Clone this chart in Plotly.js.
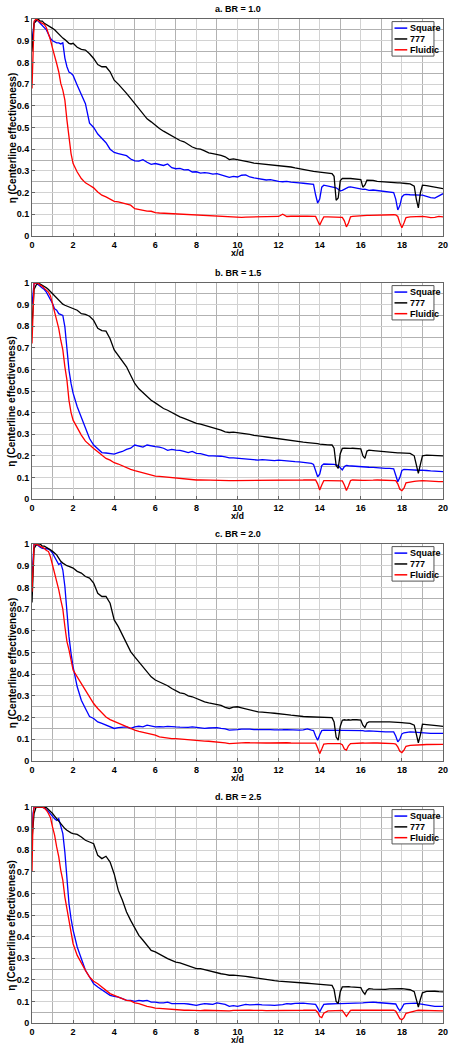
<!DOCTYPE html>
<html><head><meta charset="utf-8">
<script src="https://cdn.plot.ly/plotly-3.0.1.min.js"></script>
<style>html,body{margin:0;padding:0;background:#fff}#chart{width:460px;height:1050px}</style>
</head><body><div id="chart"></div>
<script>
// x/d sample positions
const x = [0,0.05,0.1,0.2,0.3,0.4,0.5,0.6,0.7,0.8,
 0.9,1.0,1.1,1.2,1.3,1.4,1.5,1.6,1.7,1.8,
 1.9,2.0,
 2.2,2.4,2.6,2.8,3.0,3.2,3.4,3.6,3.8,4.0,
 4.2,4.4,4.6,4.8,5.0,5.2,5.4,5.6,5.8,6.0,
 6.2,6.4,6.6,6.8,7.0,7.2,7.4,7.6,7.8,8.0,
 8.2,8.4,8.6,8.8,9.0,9.2,9.4,9.6,9.8,10.0,
 10.2,10.4,10.6,10.8,11.0,11.2,11.4,11.6,11.8,12.0,
 12.2,12.4,12.6,12.8,13.0,
 13.2,13.4,13.6,13.7,13.8,13.9,14.0,14.1,14.2,14.4,
 14.6,14.7,14.8,14.9,15.0,15.1,15.2,15.3,15.4,15.5,
 15.6,15.8,16.0,16.1,16.2,16.3,16.4,16.6,16.8,17.0,
 17.2,17.4,17.6,17.7,17.8,17.9,18.0,18.1,18.2,18.4,
 18.6,18.7,18.8,18.9,19.0,19.2,19.4,19.6,19.8,20.0];

// a. BR = 1.0
const squareA = [0.90,0.95,0.98,1.00,0.99,0.98,0.97,0.96,0.95,0.93,
 0.91,0.90,0.895,0.89,0.89,0.885,0.89,0.82,0.78,0.755,
 0.75,0.74,
 0.695,0.65,0.61,0.52,0.50,0.47,0.45,0.43,0.40,0.385,
 0.38,0.375,0.37,0.355,0.346,0.345,0.352,0.34,0.33,0.334,
 0.328,0.325,0.332,0.315,0.31,0.312,0.305,0.306,0.295,0.296,
 0.29,0.292,0.29,0.285,0.287,0.28,0.276,0.27,0.275,0.272,
 0.28,0.282,0.272,0.268,0.265,0.262,0.258,0.26,0.255,0.252,
 0.25,0.252,0.248,0.245,0.245,
 0.243,0.242,0.24,0.238,0.19,0.152,0.17,0.225,0.234,0.23,
 0.228,0.226,0.222,0.215,0.208,0.21,0.215,0.222,0.225,0.226,
 0.224,0.222,0.218,0.215,0.216,0.212,0.21,0.212,0.21,0.208,
 0.206,0.204,0.2,0.17,0.12,0.14,0.18,0.19,0.192,0.19,
 0.188,0.187,0.186,0.188,0.188,0.182,0.177,0.175,0.185,0.195];
const j777A = [0.85,0.93,0.98,0.99,1.00,0.99,0.99,0.98,0.975,0.968,
 0.962,0.957,0.95,0.94,0.93,0.92,0.912,0.905,0.895,0.888,
 0.885,0.888,
 0.87,0.86,0.857,0.84,0.818,0.79,0.78,0.78,0.757,0.718,
 0.70,0.68,0.657,0.634,0.61,0.588,0.565,0.54,0.526,0.51,
 0.495,0.483,0.472,0.46,0.45,0.44,0.434,0.423,0.41,0.403,
 0.40,0.392,0.383,0.38,0.377,0.372,0.365,0.352,0.355,0.352,
 0.348,0.345,0.34,0.336,0.334,0.332,0.33,0.33,0.328,0.326,
 0.322,0.32,0.318,0.314,0.31,
 0.305,0.302,0.30,0.298,0.297,0.296,0.294,0.293,0.292,0.29,
 0.288,0.275,0.165,0.175,0.255,0.265,0.266,0.265,0.266,0.265,
 0.264,0.262,0.26,0.225,0.235,0.257,0.257,0.256,0.252,0.25,
 0.248,0.247,0.246,0.246,0.245,0.245,0.245,0.243,0.242,0.24,
 0.23,0.17,0.13,0.2,0.234,0.232,0.228,0.226,0.222,0.218];
const fluidicA = [0.68,0.90,0.99,1.00,0.99,0.985,0.98,0.975,0.96,0.934,
 0.903,0.865,0.834,0.795,0.757,0.703,0.672,0.626,0.534,0.442,
 0.38,0.334,
 0.295,0.265,0.245,0.234,0.222,0.203,0.188,0.18,0.17,0.16,
 0.157,0.153,0.147,0.142,0.126,0.122,0.118,0.115,0.114,0.108,
 0.106,0.105,0.104,0.102,0.10,0.099,0.098,0.097,0.096,0.095,
 0.094,0.093,0.092,0.091,0.09,0.089,0.089,0.088,0.086,0.085,
 0.086,0.087,0.087,0.088,0.088,0.089,0.089,0.09,0.09,0.09,
 0.10,0.09,0.091,0.09,0.09,
 0.091,0.092,0.092,0.091,0.09,0.07,0.05,0.07,0.088,0.088,
 0.088,0.089,0.088,0.088,0.088,0.086,0.07,0.042,0.06,0.088,
 0.09,0.092,0.095,0.094,0.095,0.095,0.095,0.096,0.095,0.095,
 0.096,0.097,0.098,0.097,0.09,0.06,0.038,0.06,0.085,0.088,
 0.089,0.09,0.09,0.09,0.09,0.088,0.085,0.086,0.09,0.088];

// b. BR = 1.5
const squareB = [0.90,0.95,1.00,1.00,0.99,0.985,0.977,0.97,0.958,0.94,
 0.927,0.905,0.88,0.874,0.858,0.854,0.85,0.797,0.69,0.596,
 0.535,0.49,
 0.427,0.38,0.327,0.28,0.25,0.234,0.215,0.213,0.21,0.208,
 0.215,0.22,0.23,0.235,0.25,0.245,0.24,0.25,0.245,0.242,
 0.24,0.235,0.225,0.23,0.226,0.225,0.22,0.215,0.22,0.211,
 0.21,0.205,0.2,0.2,0.2,0.198,0.195,0.19,0.19,0.188,
 0.187,0.185,0.185,0.182,0.18,0.182,0.18,0.18,0.178,0.18,
 0.178,0.175,0.172,0.173,0.172,
 0.17,0.166,0.165,0.16,0.13,0.103,0.115,0.155,0.162,0.162,
 0.161,0.16,0.158,0.155,0.145,0.135,0.15,0.155,0.154,0.153,
 0.153,0.152,0.15,0.15,0.149,0.148,0.147,0.146,0.144,0.142,
 0.142,0.142,0.14,0.11,0.08,0.1,0.132,0.137,0.136,0.134,
 0.134,0.134,0.133,0.134,0.134,0.132,0.13,0.13,0.128,0.127];
const j777B = [0.80,0.90,0.97,0.99,1.00,0.995,0.99,0.985,0.978,0.97,
 0.96,0.95,0.94,0.927,0.918,0.908,0.902,0.897,0.893,0.889,
 0.885,0.881,
 0.874,0.858,0.855,0.846,0.827,0.79,0.78,0.777,0.742,0.69,
 0.665,0.642,0.612,0.573,0.535,0.51,0.492,0.473,0.457,0.445,
 0.43,0.419,0.411,0.40,0.388,0.38,0.373,0.365,0.357,0.35,
 0.347,0.342,0.334,0.33,0.327,0.319,0.311,0.308,0.31,0.308,
 0.305,0.302,0.299,0.295,0.291,0.29,0.287,0.284,0.282,0.28,
 0.277,0.274,0.272,0.268,0.265,
 0.263,0.261,0.26,0.259,0.258,0.256,0.254,0.254,0.253,0.251,
 0.25,0.235,0.155,0.142,0.21,0.234,0.235,0.234,0.236,0.234,
 0.235,0.234,0.232,0.2,0.188,0.222,0.226,0.224,0.222,0.219,
 0.218,0.216,0.214,0.215,0.214,0.214,0.214,0.213,0.212,0.211,
 0.2,0.16,0.119,0.16,0.2,0.203,0.203,0.202,0.201,0.2];
const fluidicB = [0.72,0.90,1.00,1.00,1.00,0.99,0.985,0.975,0.965,0.958,
 0.94,0.905,0.87,0.827,0.79,0.735,0.69,0.612,0.55,0.457,
 0.40,0.365,
 0.327,0.296,0.268,0.25,0.234,0.219,0.203,0.188,0.18,0.168,
 0.162,0.153,0.146,0.137,0.131,0.126,0.122,0.116,0.111,0.106,
 0.105,0.103,0.102,0.10,0.10,0.098,0.096,0.094,0.091,0.088,
 0.089,0.088,0.088,0.087,0.088,0.087,0.086,0.085,0.085,0.085,
 0.085,0.086,0.085,0.085,0.085,0.086,0.087,0.087,0.088,0.088,
 0.088,0.087,0.088,0.088,0.088,
 0.088,0.089,0.088,0.088,0.088,0.07,0.042,0.065,0.085,0.085,
 0.085,0.085,0.086,0.085,0.085,0.084,0.065,0.039,0.06,0.085,
 0.088,0.086,0.085,0.086,0.086,0.087,0.087,0.087,0.088,0.088,
 0.088,0.088,0.088,0.085,0.07,0.045,0.039,0.05,0.075,0.08,
 0.082,0.083,0.084,0.085,0.085,0.084,0.082,0.08,0.08,0.08];

// c. BR = 2.0
const squareC = [0.85,0.95,1.00,1.00,0.99,0.985,0.98,0.978,0.977,0.977,
 0.97,0.958,0.94,0.92,0.905,0.912,0.88,0.804,0.68,0.573,
 0.496,0.434,
 0.342,0.28,0.242,0.205,0.196,0.18,0.173,0.165,0.157,0.15,
 0.154,0.154,0.157,0.15,0.157,0.16,0.157,0.165,0.16,0.157,
 0.158,0.157,0.16,0.16,0.157,0.156,0.155,0.155,0.157,0.154,
 0.153,0.15,0.152,0.154,0.154,0.15,0.148,0.142,0.145,0.145,
 0.147,0.148,0.147,0.145,0.145,0.148,0.148,0.145,0.143,0.142,
 0.144,0.145,0.143,0.142,0.142,
 0.143,0.148,0.142,0.14,0.115,0.096,0.12,0.14,0.142,0.142,
 0.142,0.142,0.14,0.14,0.139,0.14,0.142,0.142,0.142,0.142,
 0.14,0.14,0.139,0.14,0.138,0.139,0.139,0.138,0.136,0.134,
 0.134,0.134,0.134,0.115,0.088,0.1,0.125,0.13,0.132,0.134,
 0.133,0.132,0.13,0.13,0.13,0.128,0.127,0.127,0.126,0.127];
const j777C = [0.73,0.90,0.98,0.995,1.00,1.00,0.99,0.99,0.985,0.98,
 0.973,0.966,0.958,0.95,0.935,0.92,0.912,0.905,0.9,0.897,
 0.893,0.889,
 0.874,0.866,0.85,0.843,0.82,0.773,0.758,0.758,0.727,0.65,
 0.619,0.58,0.542,0.504,0.48,0.458,0.435,0.411,0.388,0.373,
 0.365,0.354,0.347,0.334,0.324,0.314,0.311,0.30,0.296,0.288,
 0.28,0.273,0.268,0.265,0.262,0.256,0.247,0.242,0.248,0.25,
 0.245,0.24,0.234,0.23,0.226,0.225,0.222,0.222,0.22,0.219,
 0.216,0.214,0.211,0.208,0.206,
 0.205,0.204,0.203,0.203,0.202,0.201,0.2,0.2,0.2,0.2,
 0.2,0.18,0.11,0.096,0.16,0.188,0.19,0.188,0.19,0.188,
 0.19,0.19,0.188,0.165,0.154,0.175,0.18,0.18,0.181,0.18,
 0.18,0.18,0.18,0.179,0.178,0.178,0.177,0.176,0.175,0.173,
 0.165,0.13,0.084,0.12,0.17,0.168,0.165,0.164,0.162,0.16];
const fluidicC = [0.78,0.95,1.00,1.00,0.995,0.99,0.985,0.98,0.97,0.966,
 0.94,0.905,0.87,0.827,0.79,0.743,0.70,0.62,0.55,0.512,
 0.47,0.419,
 0.388,0.357,0.327,0.296,0.265,0.242,0.222,0.203,0.191,0.183,
 0.173,0.165,0.157,0.15,0.142,0.137,0.133,0.126,0.122,0.119,
 0.111,0.108,0.108,0.103,0.103,0.101,0.099,0.098,0.096,0.096,
 0.094,0.092,0.091,0.09,0.088,0.086,0.084,0.08,0.082,0.083,
 0.084,0.085,0.084,0.083,0.083,0.084,0.083,0.083,0.084,0.083,
 0.083,0.084,0.083,0.083,0.083,
 0.083,0.083,0.084,0.083,0.082,0.06,0.034,0.055,0.078,0.08,
 0.08,0.081,0.08,0.08,0.08,0.075,0.055,0.05,0.07,0.08,
 0.081,0.082,0.083,0.083,0.082,0.083,0.083,0.083,0.083,0.083,
 0.083,0.082,0.08,0.078,0.065,0.045,0.039,0.05,0.068,0.072,
 0.074,0.075,0.075,0.075,0.075,0.076,0.077,0.077,0.077,0.077];

// d. BR = 2.5
const squareD = [0.85,0.97,1.00,1.00,1.00,1.00,1.00,0.995,0.99,0.98,
 0.97,0.957,0.945,0.938,0.946,0.915,0.877,0.79,0.66,0.552,
 0.483,0.43,
 0.352,0.298,0.244,0.213,0.182,0.167,0.154,0.14,0.128,0.123,
 0.12,0.113,0.105,0.105,0.10,0.105,0.102,0.105,0.097,0.097,
 0.093,0.093,0.097,0.09,0.09,0.092,0.09,0.088,0.086,0.082,
 0.086,0.09,0.088,0.086,0.093,0.088,0.086,0.077,0.08,0.077,
 0.08,0.086,0.084,0.086,0.086,0.084,0.082,0.083,0.082,0.082,
 0.085,0.09,0.088,0.091,0.093,
 0.092,0.09,0.088,0.087,0.086,0.07,0.051,0.07,0.086,0.088,
 0.09,0.09,0.089,0.09,0.09,0.09,0.091,0.09,0.09,0.09,
 0.091,0.092,0.093,0.093,0.094,0.095,0.096,0.097,0.095,0.093,
 0.092,0.091,0.09,0.088,0.07,0.056,0.07,0.088,0.09,0.092,
 0.093,0.092,0.09,0.088,0.086,0.085,0.08,0.077,0.077,0.077];
const j777D = [0.85,0.92,0.97,1.00,1.00,1.00,1.00,1.00,0.997,0.988,
 0.98,0.97,0.958,0.946,0.935,0.923,0.912,0.90,0.892,0.884,
 0.88,0.877,
 0.873,0.861,0.846,0.838,0.83,0.776,0.761,0.772,0.745,0.69,
 0.614,0.568,0.514,0.475,0.437,0.406,0.383,0.36,0.336,0.329,
 0.318,0.306,0.298,0.29,0.282,0.278,0.272,0.267,0.259,0.252,
 0.252,0.247,0.241,0.236,0.231,0.228,0.225,0.221,0.222,0.221,
 0.218,0.216,0.213,0.21,0.205,0.203,0.2,0.198,0.196,0.194,
 0.193,0.191,0.19,0.188,0.187,
 0.185,0.184,0.182,0.181,0.18,0.18,0.179,0.178,0.177,0.176,
 0.174,0.155,0.1,0.09,0.145,0.167,0.168,0.167,0.168,0.167,
 0.167,0.166,0.164,0.145,0.133,0.152,0.159,0.157,0.156,0.154,
 0.156,0.158,0.159,0.16,0.159,0.159,0.159,0.158,0.156,0.154,
 0.145,0.11,0.074,0.11,0.14,0.146,0.148,0.147,0.145,0.144];
const fluidicD = [0.70,0.95,1.00,1.00,1.00,1.00,1.00,0.995,0.985,0.97,
 0.95,0.907,0.87,0.815,0.77,0.707,0.66,0.583,0.53,0.46,
 0.41,0.367,
 0.313,0.275,0.244,0.213,0.193,0.182,0.167,0.151,0.136,0.128,
 0.12,0.113,0.105,0.102,0.093,0.09,0.082,0.077,0.074,0.069,
 0.068,0.066,0.065,0.062,0.062,0.061,0.059,0.06,0.059,0.056,
 0.057,0.059,0.058,0.057,0.056,0.057,0.056,0.056,0.058,0.059,
 0.058,0.059,0.059,0.058,0.059,0.058,0.057,0.057,0.056,0.056,
 0.057,0.058,0.058,0.059,0.059,
 0.059,0.06,0.059,0.059,0.059,0.05,0.03,0.025,0.045,0.056,
 0.057,0.058,0.059,0.059,0.059,0.058,0.045,0.031,0.045,0.058,
 0.059,0.059,0.059,0.06,0.06,0.061,0.061,0.062,0.062,0.062,
 0.061,0.06,0.059,0.055,0.04,0.02,0.015,0.025,0.045,0.051,
 0.055,0.057,0.059,0.059,0.059,0.058,0.056,0.056,0.056,0.056];

const seriesNames = ['Square', '777', 'Fluidic'];
const seriesColors = ['#0000ff', '#000000', '#ff0000'];
const panelTitles = ['a. BR = 1.0', 'b. BR = 1.5', 'c. BR = 2.0', 'd. BR = 2.5'];
const panelData = [[squareA, j777A, fluidicA], [squareB, j777B, fluidicB],
                   [squareC, j777C, fluidicC], [squareD, j777D, fluidicD]];
const xTitle = 'x/d';
const yTitle = 'η (Centerline effectiveness)';

const W = 460, H = 1050, ML = 32, MR = 17;
const plotTop = [19, 283, 544, 807];
const plotBottom = [236, 499, 761, 1023];
const FONT = 'Arial, "Liberation Sans", sans-serif';

const traces = [];
const layout = {
  width: W, height: H,
  margin: {l: ML, r: MR, t: 0, b: 0, pad: 0},
  paper_bgcolor: '#ffffff', plot_bgcolor: '#ffffff',
  showlegend: false,
  font: {family: FONT, size: 9, color: '#000'},
  annotations: [], shapes: []
};

panelData.forEach((series, i) => {
  const n = i === 0 ? '' : String(i + 1);
  const xa = 'x' + n, ya = 'y' + n;
  series.forEach((vals, k) => {
    traces.push({
      type: 'scatter', mode: 'lines', x: x, y: vals,
      xaxis: xa, yaxis: ya, name: seriesNames[k],
      line: {color: seriesColors[k], width: 1.3},
      hoverinfo: 'skip'
    });
  });
  const common = {
    showgrid: true, gridcolor: '#d2d2d2', gridwidth: 1,
    zeroline: false, showline: true, mirror: true,
    linecolor: '#666', linewidth: 1,
    ticks: 'inside', ticklen: 3, tickcolor: '#666',
    tickfont: {family: FONT, size: 9, weight: 'bold', color: '#000'},
    fixedrange: true
  };
  layout['xaxis' + n] = Object.assign({}, common, {
    domain: [0, 1], range: [0, 20], tick0: 0, dtick: 2, anchor: ya,
    minor: {dtick: 1, showgrid: true, gridcolor: '#b2b2b2', gridwidth: 1, ticks: ''}
  });
  layout['yaxis' + n] = Object.assign({}, common, {
    domain: [1 - plotBottom[i] / H, 1 - plotTop[i] / H], range: [0, 1],
    tick0: 0, dtick: 0.1, anchor: xa, ticklabelstandoff: 0,
    minor: {dtick: 0.05, showgrid: true, gridcolor: '#b2b2b2', gridwidth: 1, ticks: ''}
  });
  const xd = xa + ' domain', yd = ya + ' domain';
  // panel title
  layout.annotations.push({text: panelTitles[i], xref: xd, yref: yd, x: 0.5, y: 1,
    xanchor: 'center', yanchor: 'middle', yshift: 10, showarrow: false,
    font: {family: FONT, size: 9, weight: 'bold', color: '#000'}});
  // x title
  layout.annotations.push({text: xTitle, xref: xd, yref: yd, x: 0.5, y: 0,
    xanchor: 'center', yanchor: 'middle', yshift: -17, showarrow: false,
    font: {family: FONT, size: 9, weight: 'bold', color: '#000'}});
  // y title
  layout.annotations.push({text: yTitle, xref: 'paper', yref: yd, x: -20 / (W - ML - MR), y: 0.45,
    xanchor: 'center', yanchor: 'middle', textangle: -90, showarrow: false,
    font: {family: FONT, size: 10, weight: 'bold', color: '#000'}});
  // legend box
  layout.shapes.push({type: 'rect', xref: xd, yref: yd, x0: 0.876, x1: 0.978, y0: 0.829, y1: 0.988,
    line: {color: '#555', width: 1}, fillcolor: '#ffffff', layer: 'above'});
  const rows = [0.958, 0.908, 0.858];
  seriesNames.forEach((nm, k) => {
    layout.shapes.push({type: 'line', xref: xd, yref: yd, x0: 0.882, x1: 0.913, y0: rows[k], y1: rows[k],
      line: {color: seriesColors[k], width: 1.5}, layer: 'above'});
    layout.annotations.push({text: nm, xref: xd, yref: yd, x: 0.916, y: rows[k],
      xanchor: 'left', yanchor: 'middle', showarrow: false,
      font: {family: FONT, size: 9, weight: 'bold', color: '#000'}});
  });
});

Plotly.newPlot('chart', traces, layout, {staticPlot: true, displayModeBar: false});
</script>
</body></html>
